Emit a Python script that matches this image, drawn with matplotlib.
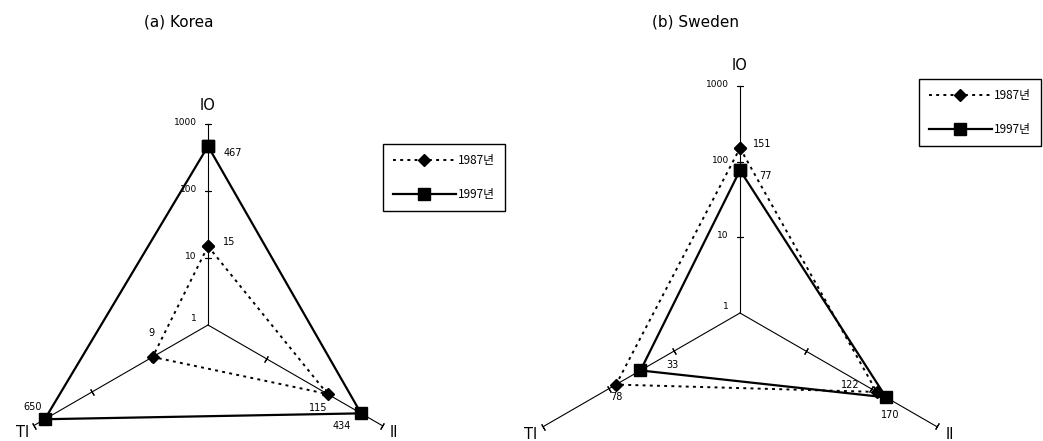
import numpy as np
import matplotlib
matplotlib.use("Agg")
import matplotlib.pyplot as plt

plt.rcParams['font.family'] = ['Noto Sans CJK KR', 'DejaVu Sans']

# data
axis_names = ["IO", "II", "TI"]
years = ["1987년", "1997년"]
korea_1987 = [15, 115, 9]
korea_1997 = [467, 434, 650]
sweden_1987 = [151, 122, 78]
sweden_1997 = [77, 170, 33]
scale_ticks = [1, 10, 100, 1000]

theta = np.deg2rad([0, 120, 240])
screen_ang = [90, -30, 210]   # Richtung der Achsen auf dem Bild


def radar(ax, v87, v97, off87, off97):
    ax.set_theta_offset(np.pi / 2)
    ax.set_theta_direction(-1)
    ax.set_ylim(0, 3)
    ax.set_axis_off()
    rt = np.log10(scale_ticks)
    # Achsen
    for t, a in zip(theta, screen_ang):
        ax.plot([t, t], [0, rt[-1]], color="black", lw=0.8, clip_on=False)
        ax.plot([t] * 3, rt[1:], ls="none", marker=(2, 2, a), ms=5,
                mec="black", mew=0.8, clip_on=False)
    for v, lab in zip(rt, scale_ticks):
        ax.annotate(str(lab), (0, v), xytext=(-8, 1 if v > 0 else 5),
                    textcoords="offset points", ha="right", va="center",
                    fontsize=6.5, family="DejaVu Sans")
    for t, name in zip(theta, axis_names):
        r = 3.27 if name == "IO" else 3.2
        ax.text(t, r, name, ha="center", va="center", fontsize=10.5,
                family="DejaVu Sans")
    tt = np.append(theta, theta[0])
    l1, = ax.plot(tt, np.log10(v87 + v87[:1]), color="black", lw=1.4,
                  ls=(0, (1.5, 2.2)), marker="D", ms=6.5, clip_on=False,
                  label=years[0])
    l2, = ax.plot(tt, np.log10(v97 + v97[:1]), color="black", lw=1.6,
                  ls="-", marker="s", ms=9, clip_on=False, label=years[1])
    for vals, offs in ((v87, off87), (v97, off97)):
        for t, v, (dx, dy, ha) in zip(theta, vals, offs):
            ax.annotate(str(v), (t, np.log10(v)), xytext=(dx, dy),
                        textcoords="offset points", ha=ha, va="center",
                        fontsize=7, family="DejaVu Sans")
    return l1, l2


fig = plt.figure(figsize=(10.43, 4.41), dpi=100)

legend_kw = dict(borderaxespad=0, fancybox=False,
                 edgecolor="black", framealpha=1, fontsize=8.5,
                 handlelength=5.3, labelspacing=1.8, handletextpad=0.2,
                 borderpad=0.85)

ax1 = fig.add_axes([7 / 1043, (116 - 201) / 441, 402 / 1043, 402 / 441],
                   projection="polar")
h = radar(ax1, korea_1987, korea_1997,
          [(11, 3, "left"), (-7, -10, "center"), (-1, 17, "center")],
          [(11, -5, "left"), (-14, -9, "center"), (-9, 9, "center")])
fig.legend(h, years, loc="upper left",
           bbox_to_anchor=(383 / 1043, 1 - 144 / 441), **legend_kw)

ax2 = fig.add_axes([513 / 1043, (128 - 227) / 441, 454 / 1043, 454 / 441],
                   projection="polar")
h = radar(ax2, sweden_1987, sweden_1997,
          [(9, 3, "left"), (-19, 5, "center"), (0, -9, "center")],
          [(14, -4, "left"), (3, -13, "center"), (23, 4, "center")])
fig.legend(h, years, loc="upper right",
           bbox_to_anchor=(1041 / 1043, 1 - 79 / 441), **legend_kw)

fig.text(179 / 1043, 1 - 22 / 441, "(a) Korea", ha="center", va="center",
         fontsize=11, family="DejaVu Sans")
fig.text(695 / 1043, 1 - 22 / 441, "(b) Sweden", ha="center", va="center",
         fontsize=11, family="DejaVu Sans")

fig.savefig("out.png", dpi=100)
